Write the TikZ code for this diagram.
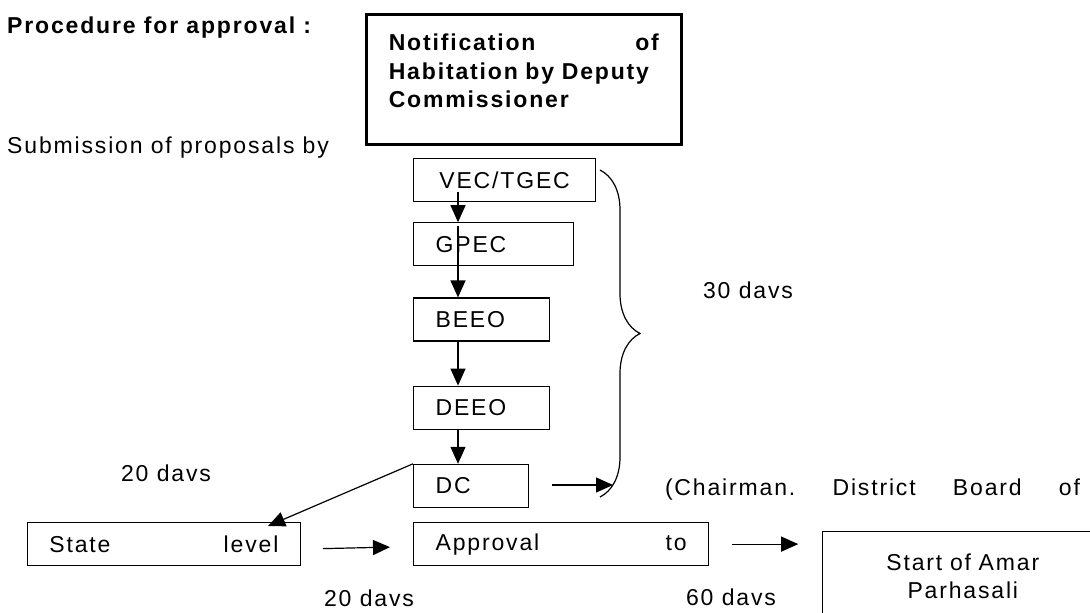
\documentclass[tikz,border=0pt]{standalone}
\usepackage{fontspec}
\setmainfont{Liberation Sans}[LetterSpace=8]
\usepackage{tikz}
\usetikzlibrary{arrows.meta, positioning, decorations.pathreplacing, calc}

\newcommand{\diagfont}{\fontsize{23}{28.5}\selectfont}

\begin{document}
\begin{tikzpicture}[
  x=1pt, y=-1pt,
  box/.style={rectangle, draw, line width=1.2pt, inner xsep=22pt, inner ysep=3pt, align=left, font=\diagfont, minimum height=43pt},
  notebox/.style={rectangle, draw, line width=2.6pt, inner xsep=22.5pt, align=left, font=\diagfont\bfseries, minimum height=130pt, text depth=74pt},
  lbl/.style={inner sep=0pt, font=\diagfont},
  arrow/.style={-{Triangle[length=17pt, width=15pt]}, line width=1.2pt},
  brace/.style={decorate, decoration={brace, amplitude=40pt}, line width=1.2pt}
]
  \useasboundingbox (0,0) rectangle (1090,613);

  \node[lbl, font=\diagfont\bfseries, anchor=west] (title) at (7,28) {Procedure for approval :};
  \node[lbl, anchor=west] (submit) at (7,148) {Submission of proposals by};
  \node[notebox, text width=270pt, anchor=north west] (notify) at (365,13) {Notification\hfill of\\Habitation by Deputy\\Commissioner};

  \node[box, text width=138pt, align=center, anchor=north west] (vec) at (413,158) {VEC/TGEC};
  \node[box, text width=116pt, below=20pt of vec.south west, anchor=north west] (gpec) {GPEC};
  \node[box, text width=92pt, below=31pt of gpec.south west, anchor=north west] (beeo) {BEEO};
  \node[box, text width=92pt, below=44pt of beeo.south west, anchor=north west] (deeo) {DEEO};
  \node[box, text width=71pt, below=34pt of deeo.south west, anchor=north west] (dc) {DC};
  \node[box, text width=251pt, below=14pt of dc.south west, anchor=north west] (approval) {Approval\hfill to};
  \node[box, text width=229pt, left=112pt of approval] (state) {State\hfill level};
  \node[box, text width=236pt, align=center, minimum height=89pt, below right=9pt and 113pt of approval.north east, anchor=north west] (start) {Start of Amar\\Parhasali};

  \node[lbl] (thirty) at (748,290) {30 davs};
  \node[lbl] (twentyup) at (166,473) {20 davs};
  \node[lbl] (twentydown) at (369,598) {20 davs};
  \node[lbl] (sixty) at (731,597) {60 davs};
  \node[lbl, text width=415pt, align=left] (chairman) at (872.5,490) {(Chairman.\hfill District\hfill Board\hfill of};

  % brace over the submission chain
  \coordinate (bracetop) at (600,170);
  \coordinate (bracefoot) at (600,497);
  \coordinate (bracein) at (613,485);
  \draw[brace] (bracetop) -- (bracefoot);

  \draw[arrow] ([xshift=45pt, yshift=10pt]vec.south west) -- ([xshift=45pt]gpec.north west);
  \draw[arrow] ([xshift=45pt, yshift=-4pt]gpec.north west) -- ([xshift=45pt]beeo.north west);
  \draw[arrow] ([xshift=45pt]beeo.south west) -- ([xshift=45pt]deeo.north west);
  \draw[arrow] ([xshift=45pt]deeo.south west) -- ([xshift=45pt]dc.north west);
  \draw[arrow, shorten <=23pt] (dc.east |- bracein) -- (bracein);
  \draw[arrow] (dc.north west) -- ([xshift=-33pt, yshift=-4pt]state.north east);
  \draw[arrow, shorten <=22pt, shorten >=23pt] ([yshift=-5pt]state.east) -- ([yshift=-2.5pt]approval.west);
  \draw[arrow, shorten <=23pt, shorten >=24pt] (approval.east) -- (approval.east -| start.west);
\end{tikzpicture}
\end{document}
